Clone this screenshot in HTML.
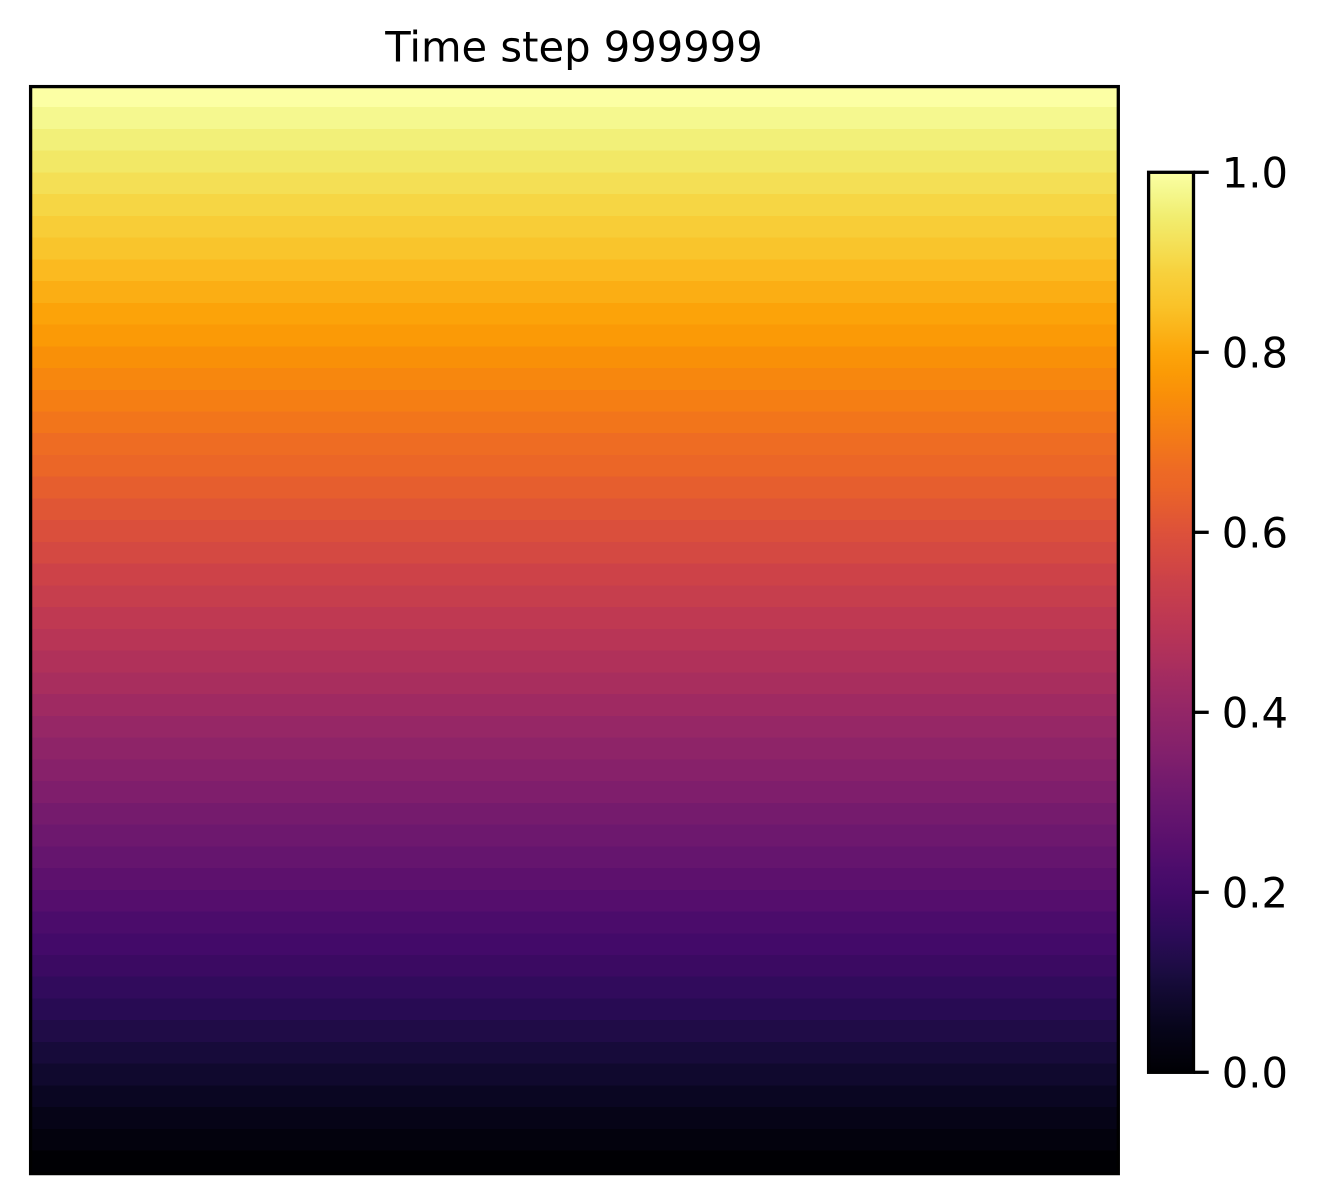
<!DOCTYPE html>
<html>
<head>
<meta charset="utf-8">
<title>Time step 999999</title>
<style>
  html, body { margin: 0; padding: 0; background: #fff; }
  svg { display: block; }
  text { font-family: "DejaVu Sans", "Liberation Sans", sans-serif; font-size: 41.67px; fill: #000; }
</style>
</head>
<body>
<svg id="chart" xmlns="http://www.w3.org/2000/svg" width="1317" height="1203" viewBox="0 0 1317 1203">
  <rect x="0" y="0" width="1317" height="1203" fill="#ffffff"/>
  <text x="574" y="61.5" text-anchor="middle">Time step 999999</text>
  <g id="heatmap"></g>
  <rect x="30.6" y="86.6" width="1087.7" height="1087" fill="none" stroke="#000" stroke-width="3.3"/>
  <defs>
    <linearGradient id="cbGradient" x1="0" y1="1" x2="0" y2="0"></linearGradient>
  </defs>
  <rect id="cbRamp" x="1148.6" y="172.3" width="44.9" height="900" fill="url(#cbGradient)"/>
  <rect x="1148.6" y="172.3" width="44.9" height="900" fill="none" stroke="#000" stroke-width="3.3"/>
  <g id="cbTicks"></g>
</svg>
<script>
// Row values of the heatmap, listed bottom row first
const rowValues = [
  0.0000, 0.0204, 0.0408, 0.0612, 0.0816, 0.1020, 0.1224, 0.1429, 0.1633, 0.1837,
  0.2041, 0.2245, 0.2449, 0.2653, 0.2857, 0.3061, 0.3265, 0.3469, 0.3673, 0.3878,
  0.4082, 0.4286, 0.4490, 0.4694, 0.4898, 0.5102, 0.5306, 0.5510, 0.5714, 0.5918,
  0.6122, 0.6327, 0.6531, 0.6735, 0.6939, 0.7143, 0.7347, 0.7551, 0.7755, 0.7959,
  0.8163, 0.8367, 0.8571, 0.8776, 0.8980, 0.9184, 0.9388, 0.9592, 0.9796, 1.0000
];
const tickValues = [0, 0.2, 0.4, 0.6, 0.8, 1.0];
const tickLabels = ["0.0", "0.2", "0.4", "0.6", "0.8", "1.0"];
const colorDomain = [0, 1];
const infernoPositions = [0, 0.05, 0.1, 0.1111, 0.15, 0.2, 0.2222, 0.25, 0.3, 0.3333, 0.35, 0.4, 0.4444, 0.45, 0.5, 0.55, 0.5556, 0.6, 0.65, 0.6667, 0.7, 0.75, 0.7778, 0.8, 0.85, 0.8889, 0.9, 0.95, 0.9796, 1];
const infernoColors = ["#000004", "#07051b", "#160b39", "#1b0c41", "#2b0b57", "#420a68", "#4a0c6b", "#570f6d", "#6a176e", "#781c6d", "#801f6c", "#932667", "#a52c60", "#a92e5e", "#bc3754", "#cc4248", "#cf4446", "#dd513a", "#eb6527", "#ed6925", "#f37819", "#f98e09", "#fb9b06", "#fca50a", "#fac228", "#f7d13d", "#f6d746", "#f1ed6f", "#f5f88f", "#fcffa4"];

const SVG_NS = "http://www.w3.org/2000/svg";
const plotLeft = 30.6, plotRight = 1118.3, plotTop = 86.6, plotBottom = 1173.6;
const gridOffset = -1.7;
const cbTop = 172.3, cbBottom = 1072.3, cbRight = 1193.5;

function hexToRgb(hex) {
  return [1, 3, 5].map(function (p) { return parseInt(hex.substr(p, 2), 16); });
}
function inferno(v) {
  const t = Math.max(0, Math.min(1, (v - colorDomain[0]) / (colorDomain[1] - colorDomain[0])));
  let k = 0;
  while (k < infernoPositions.length - 2 && t > infernoPositions[k + 1]) k++;
  const f = (t - infernoPositions[k]) / (infernoPositions[k + 1] - infernoPositions[k]);
  const a = hexToRgb(infernoColors[k]);
  const b = hexToRgb(infernoColors[k + 1]);
  return "rgb(" + a.map(function (c, j) { return Math.round(c + (b[j] - c) * f); }).join(",") + ")";
}
// Band scale: row index (0 = bottom) to pixel position
function rowY(i) {
  return plotBottom + gridOffset - (i + 1) * (plotBottom - plotTop) / rowValues.length;
}
function rowH() {
  return (plotBottom - plotTop) / rowValues.length;
}
// Linear scale for the colorbar axis
function cbY(v) {
  return cbBottom - (v - colorDomain[0]) / (colorDomain[1] - colorDomain[0]) * (cbBottom - cbTop);
}

const heatmap = document.getElementById("heatmap");
rowValues.forEach(function (v, i) {
  const r = document.createElementNS(SVG_NS, "rect");
  const top = Math.max(rowY(i), plotTop);
  const bottom = i === 0 ? plotBottom : rowY(i) + rowH() + 0.5;
  r.setAttribute("x", plotLeft);
  r.setAttribute("y", top);
  r.setAttribute("width", plotRight - plotLeft);
  r.setAttribute("height", bottom - top);
  r.setAttribute("fill", inferno(v));
  r.setAttribute("shape-rendering", "crispEdges");
  
  
  heatmap.appendChild(r);
});

const gradient = document.getElementById("cbGradient");
infernoPositions.forEach(function (p, i) {
  const s = document.createElementNS(SVG_NS, "stop");
  s.setAttribute("offset", p);
  s.setAttribute("stop-color", infernoColors[i]);
  gradient.appendChild(s);
});

const ticks = document.getElementById("cbTicks");
tickValues.forEach(function (v, i) {
  const y = cbY(v);
  const line = document.createElementNS(SVG_NS, "line");
  line.setAttribute("x1", cbRight);
  line.setAttribute("x2", cbRight + 15.2);
  line.setAttribute("y1", y);
  line.setAttribute("y2", y);
  line.setAttribute("stroke", "#000");
  line.setAttribute("stroke-width", "3.3");
  
  
  ticks.appendChild(line);
  const label = document.createElementNS(SVG_NS, "text");
  label.setAttribute("x", 1221.8);
  label.setAttribute("y", y + 15);
  label.textContent = tickLabels[i];
  
  
  ticks.appendChild(label);
});
</script>
</body>
</html>
